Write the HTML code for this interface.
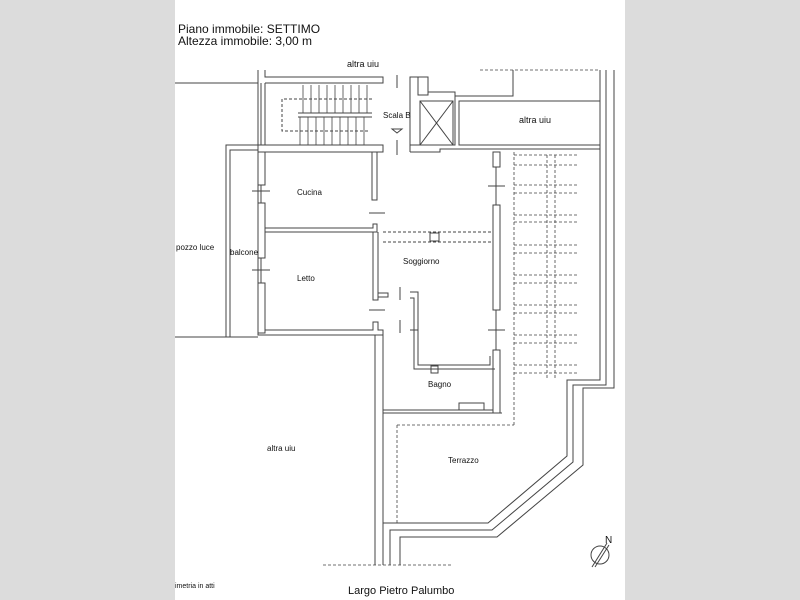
<!DOCTYPE html>
<html><head><style>
html,body{margin:0;padding:0;background:#dcdcdc;}
svg{display:block;}
text{font-family:"Liberation Sans",sans-serif;fill:#111;}
</style></head><body>
<svg width="800" height="600" viewBox="0 0 800 600" xmlns="http://www.w3.org/2000/svg">
<rect x="175" y="0" width="450" height="600" fill="#fff"/>
<text x="178" y="33" font-size="12">Piano immobile: SETTIMO</text>
<text x="178" y="45" font-size="12">Altezza immobile: 3,00 m</text>
<g fill="none" stroke="#444" stroke-width="1">
<!-- pozzo luce -->
<line x1="175" y1="83" x2="258" y2="83"/>
<line x1="175" y1="337" x2="258" y2="337"/>
<polyline points="226,337 226,145 258,145"/>
<polyline points="230,337 230,150 258,150"/>
<!-- stair block -->
<polyline points="258,70 258,333"/>
<polyline points="265,70 265,77 383,77 383,83 265,83"/>
<line x1="261" y1="83" x2="261" y2="145"/>
<line x1="265" y1="83" x2="265" y2="145"/>
<polyline points="258,145 383,145 383,152 265,152"/>
<line x1="298" y1="113" x2="372" y2="113"/>
<line x1="298" y1="117" x2="372" y2="117"/>
<g stroke-width="0.8">
<line x1="303" y1="85" x2="303" y2="113"/><line x1="311" y1="85" x2="311" y2="113"/><line x1="319" y1="85" x2="319" y2="113"/><line x1="327" y1="85" x2="327" y2="113"/><line x1="335" y1="85" x2="335" y2="113"/><line x1="343" y1="85" x2="343" y2="113"/><line x1="351" y1="85" x2="351" y2="113"/><line x1="359" y1="85" x2="359" y2="113"/><line x1="367" y1="85" x2="367" y2="113"/>
<line x1="300" y1="117" x2="300" y2="145"/><line x1="308" y1="117" x2="308" y2="145"/><line x1="316" y1="117" x2="316" y2="145"/><line x1="324" y1="117" x2="324" y2="145"/><line x1="332" y1="117" x2="332" y2="145"/><line x1="340" y1="117" x2="340" y2="145"/><line x1="348" y1="117" x2="348" y2="145"/><line x1="356" y1="117" x2="356" y2="145"/><line x1="364" y1="117" x2="364" y2="145"/>
</g>
<polyline points="372,99 282,99 282,131 370,131" stroke-dasharray="3,2"/>
<line x1="397" y1="75" x2="397" y2="88"/><line x1="397" y1="140" x2="397" y2="155"/>
<polygon points="392,129 402,129 397,133"/>
<!-- lift -->
<polyline points="410,145 410,77 418,77 418,95 428,95 428,77 418,77"/>
<polyline points="410,152 410,145 455,145 455,96 513,96 513,70"/>
<polyline points="428,77 428,92 455,92 455,96"/>
<rect x="420" y="101" width="33" height="44"/>
<line x1="420" y1="101" x2="453" y2="145"/><line x1="453" y1="101" x2="420" y2="145"/>
<rect x="459" y="101" width="141" height="44"/>
<polyline points="410,152 440,152 440,149 600,149"/>
<line x1="410" y1="152" x2="410" y2="145"/>
<!-- left rooms -->
<rect x="258" y="152" width="7" height="33"/>
<rect x="258" y="203" width="7" height="55"/>
<rect x="258" y="283" width="7" height="50"/>
<line x1="252" y1="191" x2="270" y2="191"/><line x1="252" y1="270" x2="270" y2="270"/>
<line x1="261" y1="185" x2="261" y2="203"/><line x1="261" y1="258" x2="261" y2="283"/>
<polyline points="372,152 372,200 377,200 377,152"/>
<line x1="369" y1="213" x2="385" y2="213"/>
<polyline points="265,228 373,228 373,224 377,224 377,232 265,232"/>
<polyline points="373,232 373,300 378,300 378,232"/>
<polyline points="378,293 388,293 388,297 378,297"/>
<line x1="369" y1="310" x2="385" y2="310"/>
<polyline points="265,330 373,330 373,322 378,322 378,330 383,330 383,335 258,335 258,333"/>
<line x1="375" y1="335" x2="375" y2="565"/><line x1="383" y1="335" x2="383" y2="565"/>
<line x1="400" y1="287" x2="400" y2="300"/><line x1="400" y1="320" x2="400" y2="333"/>
<polyline points="410,292 418,292 418,365 490,365 490,356"/>
<polyline points="410,298 414,298 414,369 495,369"/>
<polyline points="410,330 418,330"/>
<line x1="383" y1="232" x2="493" y2="232" stroke-dasharray="3,2"/>
<line x1="383" y1="242" x2="493" y2="242" stroke-dasharray="3,2"/>
<rect x="430" y="233" width="9" height="8"/>
<!-- soggiorno right wall -->
<rect x="493" y="152" width="7" height="15"/>
<rect x="493" y="205" width="7" height="105"/>
<rect x="493" y="350" width="7" height="63"/>
<line x1="496" y1="167" x2="496" y2="205"/><line x1="496" y1="310" x2="496" y2="350"/>
<line x1="488" y1="186" x2="505" y2="186"/><line x1="488" y1="330" x2="505" y2="330"/>
<!-- bagno -->
<polyline points="383,410 493,410"/>
<polyline points="383,413 502,413"/>
<rect x="459" y="403" width="25" height="7"/>
<rect x="431" y="366" width="7" height="7"/>
<!-- dashed grid -->
<g stroke-dasharray="3,2" stroke-width="0.8">
<line x1="514" y1="152" x2="514" y2="425"/>
<line x1="547" y1="155" x2="547" y2="380"/>
<line x1="555" y1="155" x2="555" y2="380"/>
<line x1="397" y1="425" x2="514" y2="425"/>
<line x1="397" y1="425" x2="397" y2="525"/>
<line x1="514" y1="155" x2="578" y2="155"/>
<line x1="514" y1="165" x2="578" y2="165"/>
<line x1="514" y1="185" x2="578" y2="185"/>
<line x1="514" y1="193" x2="578" y2="193"/>
<line x1="514" y1="215" x2="578" y2="215"/>
<line x1="514" y1="222" x2="578" y2="222"/>
<line x1="514" y1="245" x2="578" y2="245"/>
<line x1="514" y1="253" x2="578" y2="253"/>
<line x1="514" y1="275" x2="578" y2="275"/>
<line x1="514" y1="283" x2="578" y2="283"/>
<line x1="514" y1="305" x2="578" y2="305"/>
<line x1="514" y1="313" x2="578" y2="313"/>
<line x1="514" y1="335" x2="578" y2="335"/>
<line x1="514" y1="343" x2="578" y2="343"/>
<line x1="514" y1="365" x2="578" y2="365"/>
<line x1="514" y1="373" x2="578" y2="373"/>
<line x1="480" y1="70" x2="600" y2="70"/>
<line x1="323" y1="565" x2="452" y2="565"/>
</g>
<!-- exterior walls -->
<polyline points="383,523 488,523 567,456 567,380 600,380 600,70"/>
<polyline points="390,565 390,530 492,530 573,462 573,385 606,385 606,70"/>
<polyline points="400,565 400,537 497,537 583,465 583,388 614,388 614,70"/>
<!-- compass -->
<circle cx="600" cy="555" r="9"/>
<line x1="592" y1="567" x2="607" y2="543"/>
<line x1="595" y1="567" x2="609" y2="545"/>
</g>
<g font-size="8">
<text x="347" y="67" font-size="9">altra uiu</text>
<text x="519" y="123" font-size="9">altra uiu</text>
<text x="267" y="451">altra uiu</text>
<text x="176" y="250">pozzo luce</text>
<text x="230" y="255">balcone</text>
<text x="297" y="195">Cucina</text>
<text x="297" y="281">Letto</text>
<text x="403" y="264">Soggiorno</text>
<text x="428" y="387">Bagno</text>
<text x="448" y="463">Terrazzo</text>
<text x="383" y="118">Scala B</text>
<text x="175" y="588" font-size="7">imetria in atti</text>
</g>
<text x="605" y="543" font-size="10">N</text>
<text x="348" y="594" font-size="11">Largo Pietro Palumbo</text>
</svg>
</body></html>
